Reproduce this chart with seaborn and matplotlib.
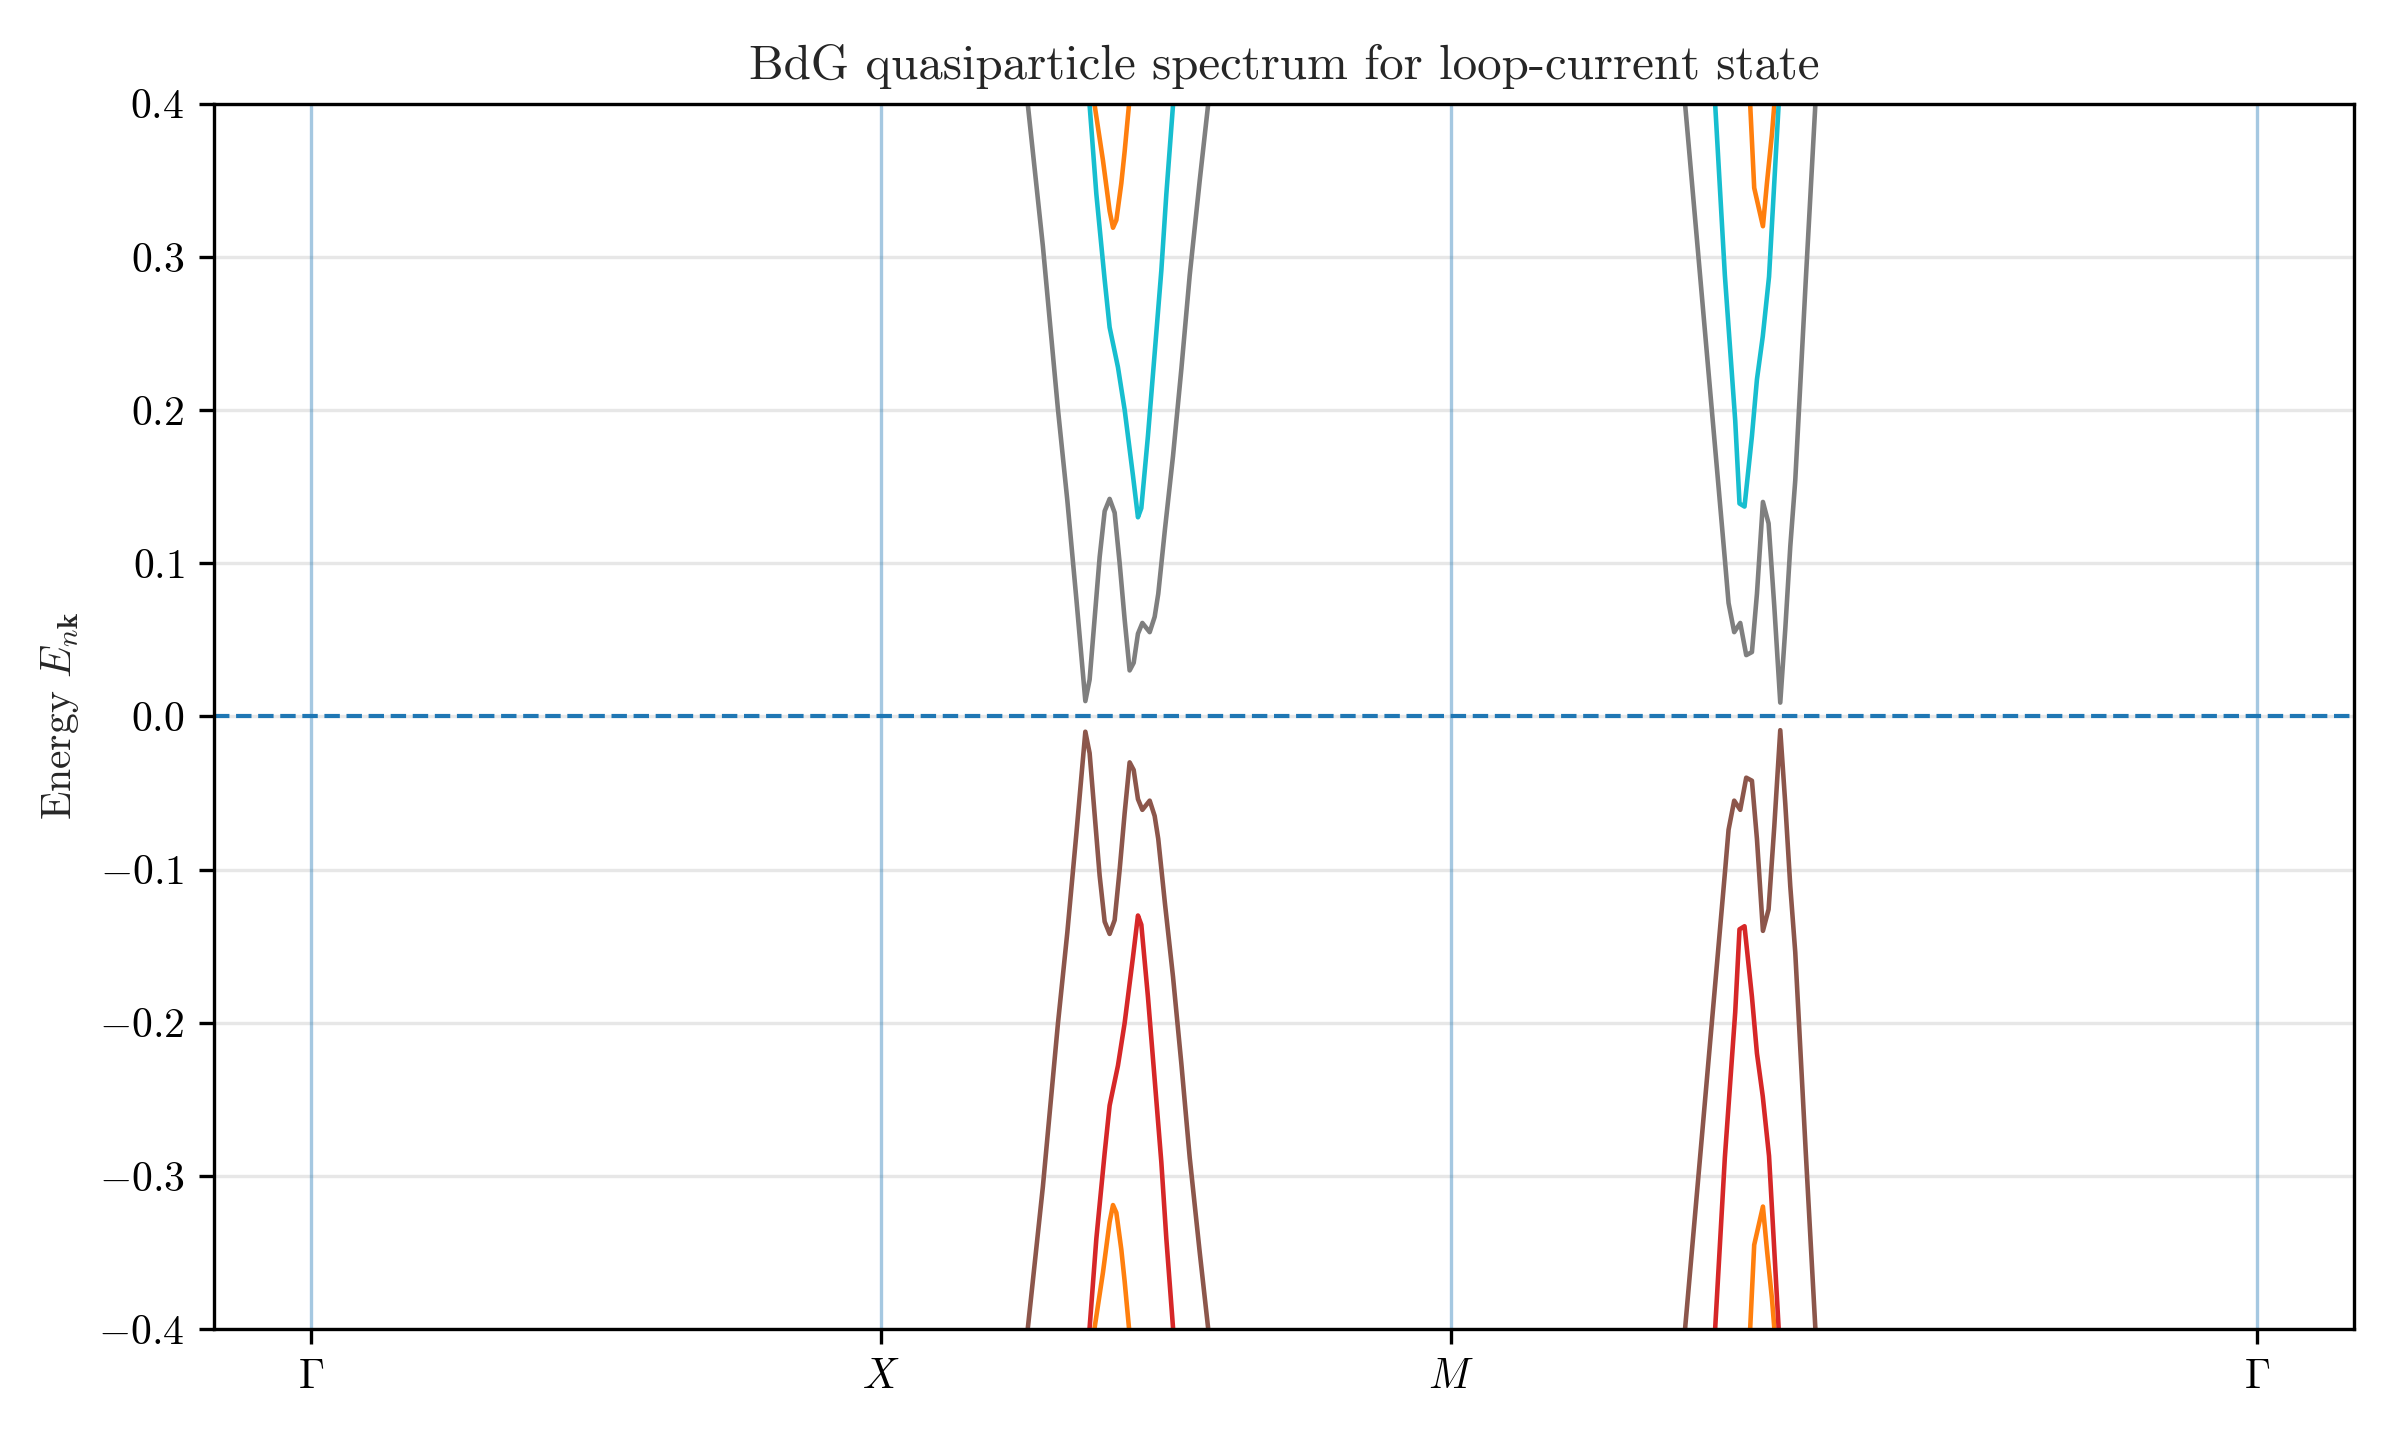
import numpy as np
import pandas as pd
import seaborn as sns
import matplotlib.pyplot as plt

#-----------------------------------------------------------------------------------------------------------------------
"""Data read off the picture (k along the path, Gamma=0, X=1, M=2, Gamma=2+sqrt2)"""
# positive (particle) branches, X -> M stretch
k_gray_XM = [1.2434, 1.2578, 1.2841, 1.3104, 1.3270, 1.3430, 1.3586, 1.3661, 1.3837, 1.3925, 1.4012,
             1.4100, 1.4188, 1.4276, 1.4363, 1.4434, 1.4509, 1.4586, 1.4715, 1.4802, 1.4865, 1.4982,
             1.5124, 1.5271, 1.5417, 1.5593, 1.5739, 1.5890]
E_gray_XM = [0.450, 0.399, 0.307, 0.201, 0.141, 0.076, 0.010, 0.024, 0.104, 0.134, 0.142,
             0.133, 0.100, 0.063, 0.030, 0.035, 0.054, 0.061, 0.055, 0.065, 0.080, 0.122,
             0.170, 0.227, 0.288, 0.350, 0.399, 0.450]

k_cyan_XM = [1.3556, 1.3661, 1.3779, 1.3925, 1.4012, 1.4158, 1.4276, 1.4422, 1.4509, 1.4568,
             1.4684, 1.4802, 1.4919, 1.5007, 1.5124, 1.5228]
E_cyan_XM = [0.450, 0.399, 0.341, 0.285, 0.254, 0.228, 0.200, 0.157, 0.130, 0.136,
             0.183, 0.237, 0.291, 0.341, 0.399, 0.450]

k_orange_XM = [1.3540, 1.3749, 1.3895, 1.4012, 1.4071, 1.4130, 1.4217, 1.4276, 1.4351, 1.4482]
E_orange_XM = [0.450, 0.399, 0.363, 0.330, 0.319, 0.324, 0.348, 0.369, 0.399, 0.450]

# positive branches, M -> Gamma stretch
k_gray_MG = [2.3986, 2.4109, 2.4363, 2.4567, 2.4694, 2.4811, 2.4870, 2.4969, 2.5075, 2.5180, 2.5280,
             2.5368, 2.5473, 2.5572, 2.5672, 2.5777, 2.5865, 2.5953, 2.6040, 2.6225, 2.6392, 2.6467]
E_gray_MG = [0.450, 0.399, 0.291, 0.204, 0.150, 0.100, 0.074, 0.055, 0.061, 0.040, 0.042,
             0.080, 0.140, 0.126, 0.072, 0.009, 0.057, 0.111, 0.154, 0.285, 0.399, 0.450]

k_cyan_MG = [2.4549, 2.4636, 2.4805, 2.4987, 2.5062, 2.5150, 2.5280, 2.5368, 2.5470, 2.5580,
             2.5748, 2.5825]
E_cyan_MG = [0.450, 0.399, 0.288, 0.193, 0.139, 0.137, 0.183, 0.220, 0.248, 0.287,
             0.399, 0.450]

k_orange_MG = [2.5185, 2.5250, 2.5320, 2.5473, 2.5543, 2.5631, 2.5672, 2.5786]
E_orange_MG = [0.450, 0.399, 0.345, 0.320, 0.348, 0.380, 0.399, 0.450]

# high-symmetry points
path_ticks = [0.0, 1.0, 2.0, 2.0 + np.sqrt(2.0)]
path_labels = [r'$\Gamma$', r'$X$', r'$M$', r'$\Gamma$']

#-----------------------------------------------------------------------------------------------------------------------
"""Building the DataFrame (hole branches are the -E partners of the particle branches)"""
branches = [
    ('orange', 'orange-', k_orange_XM, E_orange_XM, 'XM'),
    ('orange', 'orange-', k_orange_MG, E_orange_MG, 'MG'),
    ('cyan', 'red', k_cyan_XM, E_cyan_XM, 'XM'),
    ('cyan', 'red', k_cyan_MG, E_cyan_MG, 'MG'),
    ('gray', 'brown', k_gray_XM, E_gray_XM, 'XM'),
    ('gray', 'brown', k_gray_MG, E_gray_MG, 'MG'),
]
rows = []
for pos, neg, k, E, part in branches:
    for kk, ee in zip(k, E):
        rows.append((kk, ee, pos, pos + part))
        rows.append((kk, -ee, neg, neg + part))
df = pd.DataFrame(rows, columns=['k', 'E', 'band', 'seg'])

palette = {'orange-': '#ff7f0e', 'red': '#d62728', 'brown': '#8c564b',
           'gray': '#7f7f7f', 'cyan': '#17becf', 'orange': '#ff7f0e'}

#-----------------------------------------------------------------------------------------------------------------------
"""Style"""
sns.set_style('ticks')
plt.rcParams['font.family'] = ['serif']
plt.rcParams['font.serif'] = ['cmr10', 'DejaVu Serif']
plt.rcParams['mathtext.fontset'] = 'cm'
plt.rcParams['axes.formatter.use_mathtext'] = True
plt.rcParams['font.size'] = 10
plt.rcParams['axes.unicode_minus'] = True

fig, ax = plt.subplots(figsize=(8, 4.8), dpi=300)

#-----------------------------------------------------------------------------------------------------------------------
"""Plotting"""
ax.yaxis.grid(True, color='#b0b0b0', alpha=0.3, lw=0.8)
for t in path_ticks:
    ax.axvline(t, color='#1f77b4', alpha=0.4, lw=0.8)
ax.axhline(0.0, color='#1f77b4', ls='--', lw=1.0)

sns.lineplot(data=df, x='k', y='E', hue='band', units='seg', estimator=None, sort=False,
             palette=palette, lw=1.1, legend=False, ax=ax)

#-----------------------------------------------------------------------------------------------------------------------
"""Axes"""
L = path_ticks[-1]
ax.set_xlim(-0.05 * L, 1.05 * L)
ax.set_ylim(-0.4, 0.4)
ax.set_xticks(path_ticks)
ax.set_xticklabels(path_labels)
ax.set_yticks(np.arange(-0.4, 0.41, 0.1))
ax.set_xlabel('')
ax.set_ylabel(r'Energy $E_{n\mathbf{k}}$')
ax.set_title('BdG quasiparticle spectrum for loop-current state', fontsize=11.75)
for s in ax.spines.values():
    s.set_color('black')
    s.set_linewidth(0.8)
ax.tick_params(axis='both', colors='black', direction='out', length=3.5, width=0.8)

fig.subplots_adjust(left=0.089, right=0.981, bottom=0.077, top=0.928)
fig.savefig('out.png', dpi=300)
